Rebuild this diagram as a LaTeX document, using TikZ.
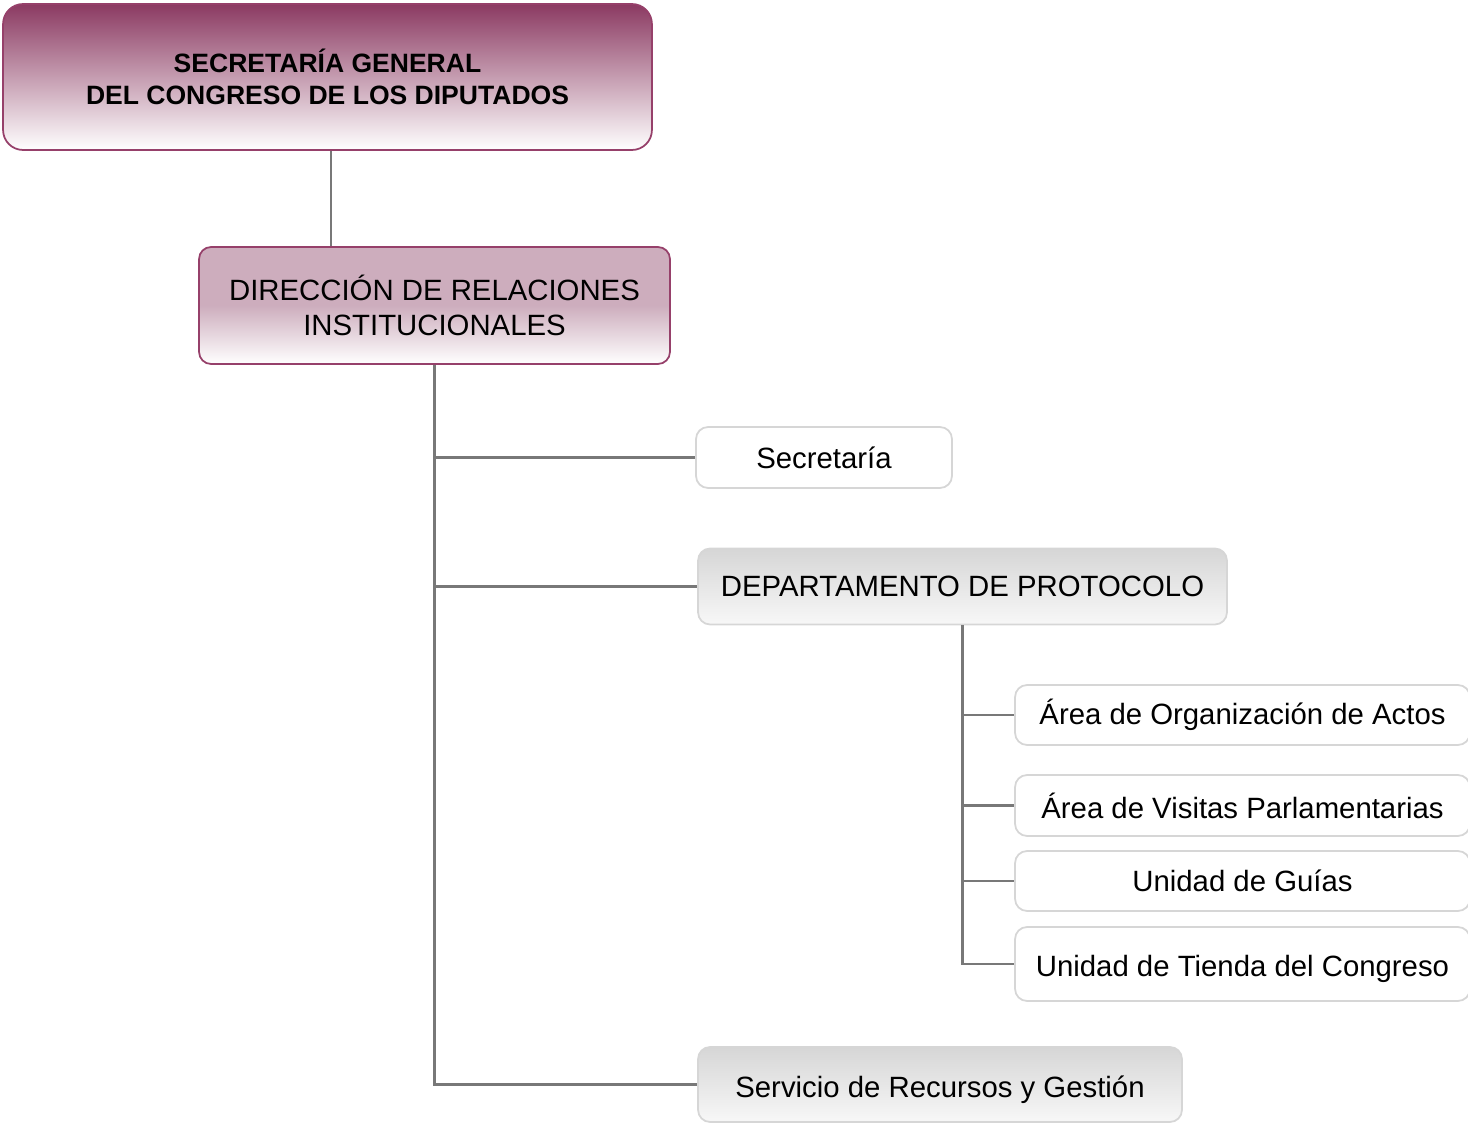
\documentclass[tikz,border=0pt]{standalone}
\usepackage{fontspec}
\setmainfont{Liberation Sans}
\usepackage{xcolor}
\usepackage{tikz}

\definecolor{granate}{RGB}{139,58,98}
\definecolor{rosa}{RGB}{205,173,189}
\definecolor{borde}{RGB}{150,64,106}
\definecolor{gris}{RGB}{120,120,120}
\definecolor{grisclaro}{RGB}{214,214,214}

\begin{document}
\begin{tikzpicture}[x=0.02cm, y=-0.02cm,
        box/.style={rectangle, rounded corners=0.24cm, draw=grisclaro, line width=1pt,
            align=center, inner sep=0pt, font=\fontsize{16.7}{19.9}\selectfont},
        white box/.style={box, fill=white},
        grey box/.style={box, top color=grisclaro, bottom color=white!97!black},
        low text/.style={text height=18pt, text depth=3.5pt},
        link/.style={draw=gris, line width=1.4pt}]

    \useasboundingbox (0,0) rectangle (1468,1124);

    \node[box, draw=borde, rounded corners=0.4cm, top color=granate, bottom color=white,
        minimum width=12.98cm, minimum height=2.92cm,
        font=\fontsize{15.1}{18.2}\selectfont\bfseries] (sg) at (327.5,77)
        {SECRETARÍA GENERAL\\DEL CONGRESO DE LOS DIPUTADOS};
    \node[box, draw=borde, top color=rosa, bottom color=white, middle color=rosa,
        minimum width=9.42cm, minimum height=2.34cm] (dri) at (434.5,305.5)
        {DIRECCIÓN DE RELACIONES\\INSTITUCIONALES};

    \node[white box, minimum width=5.12cm, minimum height=1.22cm] (sec) at (824,457.5) {Secretaría};
    \node[grey box, minimum width=10.58cm, minimum height=1.52cm] (prot) at (962.5,586.5) {DEPARTAMENTO DE PROTOCOLO};
    \node[grey box, low text, minimum width=9.68cm, minimum height=1.5cm] (serv) at (940,1084.5) {Servicio de Recursos y Gestión};

    \node[white box, minimum width=9.1cm, minimum height=1.2cm] (org) at (1242.5,715) {Área de Organización de Actos};
    \node[white box, minimum width=9.1cm, minimum height=1.22cm] (vis) at (1242.5,805.5) {Área de Visitas Parlamentarias};
    \node[white box, minimum width=9.1cm, minimum height=1.2cm] (guias) at (1242.5,881) {Unidad de Guías};
    \node[white box, low text, minimum width=9.1cm, minimum height=1.48cm] (tienda) at (1242.5,964) {Unidad de Tienda del Congreso};

    \draw[link] ([xshift=0.07cm]sg.south) -- ([xshift=0.07cm]sg.south |- dri.north);

    \path[link]
    (dri.south) |- (sec.west)
    (dri.south) |- (prot.west)
    (dri.south) |- (serv.west)
    ;
    \path[link]
    (prot.south) |- (org.west)
    (prot.south) |- (vis.west)
    (prot.south) |- (guias.west)
    (prot.south) |- (tienda.west)
    ;
\end{tikzpicture}
\end{document}
